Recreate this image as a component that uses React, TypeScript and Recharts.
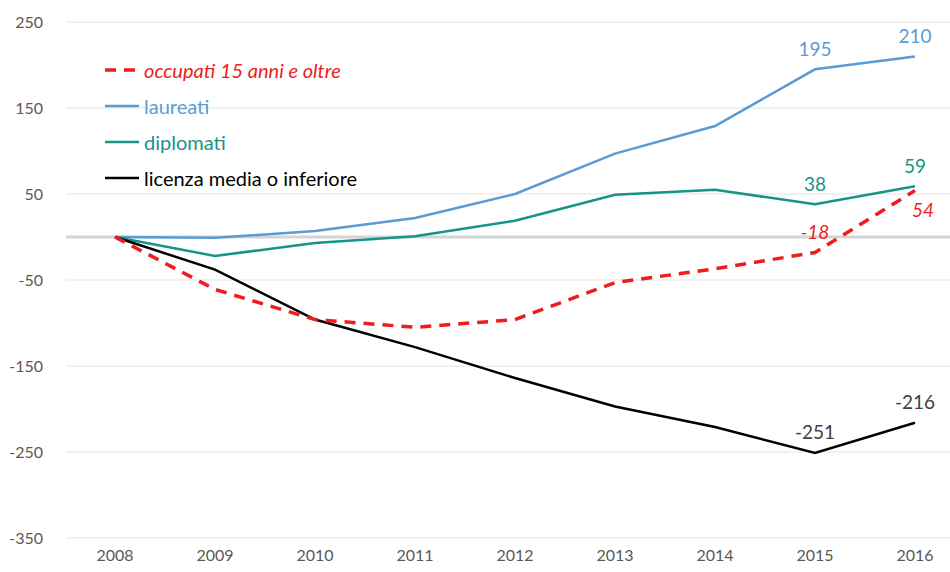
import React from "react";
import { LineChart, Line, XAxis, YAxis, CartesianGrid, ReferenceLine, LabelList } from "recharts";

if (typeof document !== "undefined") {
  document.body.style.margin = "0";
}

const years = ["2008", "2009", "2010", "2011", "2012", "2013", "2014", "2015", "2016"];
const occupati = [0, -61, -96, -105, -96, -53, -37, -18, 54];
const laureati = [0, -1, 7, 22, 50, 97, 129, 195, 210];
const diplomati = [0, -22, -7, 1, 19, 49, 55, 38, 59];
const licenza = [0, -38, -96, -128, -164, -197, -221, -251, -216];
const yTicks = [-350, -250, -150, -50, 50, 150, 250];

const seriesInfo = [
  { key: "occupati", name: "occupati 15 anni e oltre", color: "#ee1c1c", dashed: true, italic: true },
  { key: "laureati", name: "laureati", color: "#5b9bd5", dashed: false, italic: false },
  { key: "diplomati", name: "diplomati", color: "#169486", dashed: false, italic: false },
  { key: "licenza", name: "licenza media o inferiore", color: "#000000", dashed: false, italic: false },
];

const data = years.map((y, i) => ({
  year: y,
  occupati: occupati[i],
  laureati: laureati[i],
  diplomati: diplomati[i],
  licenza: licenza[i],
}));

const FONT = "Lato, 'Source Sans Pro', sans-serif";

const makeLabel = (color: string, italic: boolean, belowLast: boolean) => (props: any) => {
  const { x, y, value, index } = props;
  if (index < 7) return null;
  const below = belowLast && index === 8;
  return (
    <text
      x={x + (below ? 8 : 0)}
      y={below ? y + 19 : y - 21}
      fill={italic ? "#e8242a" : color === "#000000" ? "#404040" : color}
      fontSize={19}
      fontStyle={italic ? "italic" : "normal"}
      textAnchor="middle"
      dominantBaseline="central"
      fontFamily={FONT}
    >
      {value}
    </text>
  );
};

const LegendBox = () => (
  <div style={{ position: "absolute", left: 104, top: 52, fontFamily: FONT, fontSize: 20, lineHeight: "36px" }}>
    {seriesInfo.map((s) => (
      <div key={s.key} style={{ display: "flex", alignItems: "center", height: 36 }}>
        <svg width={40} height={10}>
          <line
            x1={1}
            y1={5}
            x2={35}
            y2={5}
            stroke={s.color}
            strokeWidth={s.dashed ? 3.5 : 2.5}
            strokeDasharray={s.dashed ? "11 8" : undefined}
          />
        </svg>
        <span style={{ color: s.color, fontStyle: s.italic ? "italic" : "normal", whiteSpace: "nowrap" }}>
          {s.name}
        </span>
      </div>
    ))}
  </div>
);

export default function App() {
  return (
    <div style={{ position: "relative", width: 950, height: 572, background: "#fff" }}>
      <LineChart width={950} height={572} data={data} margin={{ top: 22, right: 0, bottom: 4, left: 0 }}>
        <CartesianGrid vertical={false} stroke="#e3e3e3" strokeWidth={1} />
        <XAxis
          dataKey="year"
          axisLine={false}
          tickLine={false}
          padding={{ left: 49, right: 35 }}
          height={30}
          tick={{ fill: "#595959", fontSize: 16, fontFamily: FONT }}
          tickMargin={6}
        />
        <YAxis
          domain={[-350, 250]}
          ticks={yTicks}
          axisLine={false}
          tickLine={false}
          width={66}
          tickMargin={17}
          interval={0}
          tick={{ fill: "#595959", fontSize: 16, fontFamily: FONT }}
        />
        <ReferenceLine y={0} stroke="#d4d4d4" strokeWidth={3} />
        <Line
          dataKey="laureati"
          name="laureati"
          stroke="#5b9bd5"
          strokeWidth={2.5}
          dot={false}
          isAnimationActive={false}
        >
          <LabelList dataKey="laureati" content={makeLabel("#5b9bd5", false, false)} />
        </Line>
        <Line
          dataKey="diplomati"
          name="diplomati"
          stroke="#169486"
          strokeWidth={2.5}
          dot={false}
          isAnimationActive={false}
        >
          <LabelList dataKey="diplomati" content={makeLabel("#169486", false, false)} />
        </Line>
        <Line
          dataKey="licenza"
          name="licenza media o inferiore"
          stroke="#000000"
          strokeWidth={2.5}
          dot={false}
          isAnimationActive={false}
        >
          <LabelList dataKey="licenza" content={makeLabel("#000000", false, false)} />
        </Line>
        <Line
          dataKey="occupati"
          name="occupati 15 anni e oltre"
          stroke="#ee1c1c"
          strokeWidth={3.5}
          strokeDasharray="11 8"
          dot={false}
          isAnimationActive={false}
        >
          <LabelList dataKey="occupati" content={makeLabel("#ee1c1c", true, true)} />
        </Line>
      </LineChart>
      <LegendBox />
    </div>
  );
}
